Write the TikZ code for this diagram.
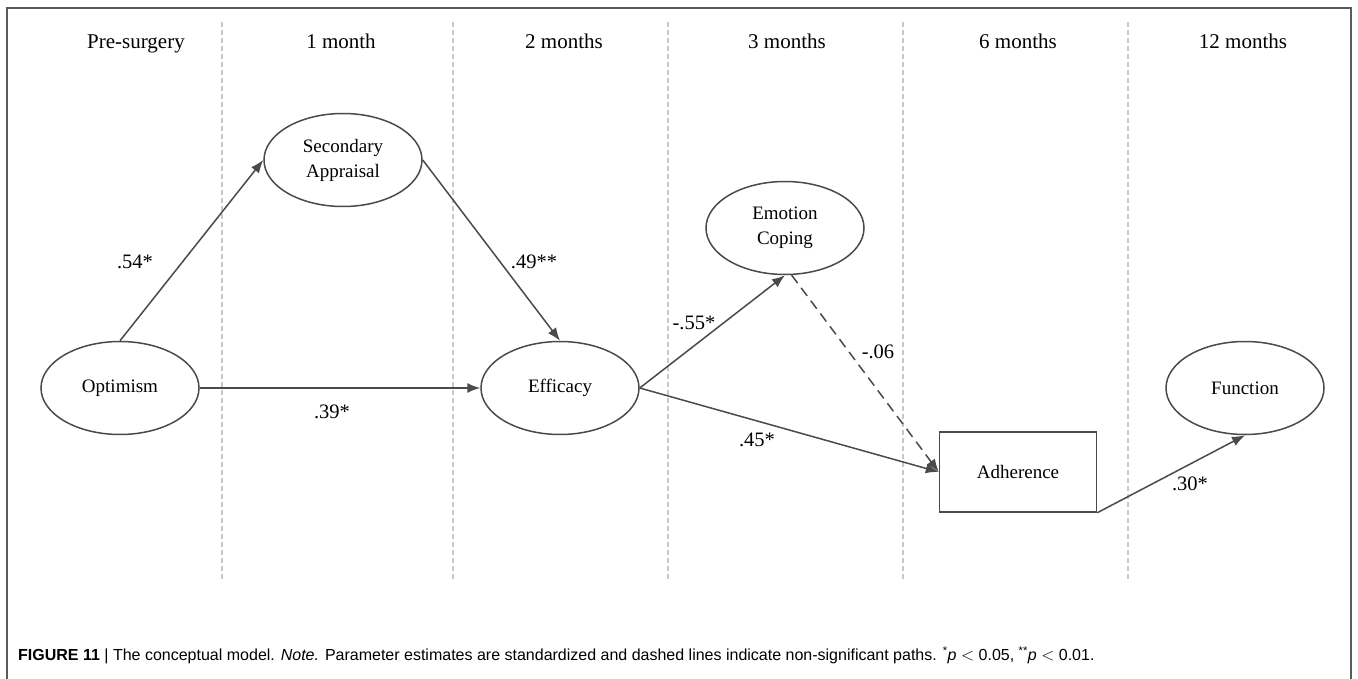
\documentclass[tikz,border=0pt]{standalone}
\usepackage{fontspec}
\setmainfont{Liberation Serif}
\newfontfamily\capfont{Liberation Sans}
\usetikzlibrary{shapes.geometric,arrows.meta}
\definecolor{linegray}{HTML}{4A4A4A}
\definecolor{gridgray}{HTML}{C8C8C8}
\definecolor{framegray}{HTML}{5A5A5A}
\begin{document}
\begin{tikzpicture}[x=1pt,y=-1pt,
  latent/.style={ellipse,draw=linegray,line width=1.5pt,minimum width=158pt,minimum height=93pt,inner sep=0pt,align=center,font=\fontsize{19}{25}\selectfont},
  observed/.style={rectangle,draw=linegray,line width=1.5pt,minimum width=157pt,minimum height=80pt,inner sep=0pt,font=\fontsize{19}{25}\selectfont},
  header/.style={anchor=base,font=\fontsize{21}{24}\selectfont},
  coef/.style={font=\fontsize{20.5}{24}\selectfont,inner sep=1pt},
  path/.style={draw=linegray,line width=1.5pt,-{Latex[length=13pt,width=10pt]}},
  nspath/.style={path,dash pattern=on 10pt off 6pt},
  divider/.style={draw=gridgray,line width=1.4pt,dash pattern=on 5pt off 3pt}]
\useasboundingbox (0,0) rectangle (1358,679);
\fill[white] (0,0) rectangle (1358,679);
% outer frame (open at the bottom edge)
\draw[framegray,line width=1.5pt] (7,679) -- (7,8) -- (1351,8) -- (1351,679);

% time-point dividers
\foreach \xx in {222,453,668,903,1128}
  \draw[divider] (\xx,22) -- (\xx,582);

% column headers
\node[header] (hpre) at (136,49) {Pre-surgery};
\node[header] (h1)   at (341,49) {1 month};
\node[header] (h2)   at (564,49) {2 months};
\node[header] (h3)   at (787,49) {3 months};
\node[header] (h6)   at (1018,49) {6 months};
\node[header] (h12)  at (1243,49) {12 months};

% constructs
\node[latent] (opt) at (120,388) {Optimism};
\node[latent] (sec) at (343,160) {Secondary\\Appraisal};
\node[latent] (eff) at (560,388) {Efficacy};
\node[latent] (emo) at (785,228) {Emotion\\Coping};
\node[latent] (fun) at (1245,388) {Function};
\node[observed] (adh) at (1018,472) {Adherence};

% paths
\draw[path] (opt.north) -- (sec.west);
\draw[path] (sec.east) -- (eff.north);
\draw[path] (opt.east) -- (eff.west);
\draw[path] (eff.east) -- (emo.south);
\draw[path] (eff.east) -- (adh.west);
\draw[nspath] (emo.-82) -- (adh.west);
\draw[path] (adh.south east) -- (fun.south);

% path coefficients
\node[coef] (c54) at (135,262) {.54*};
\node[coef] (c39) at (332,412) {.39*};
\node[coef] (c49) at (534,262) {.49**};
\node[coef] (c55) at (694,323) {-.55*};
\node[coef] (c06) at (878,352) {-.06};
\node[coef] (c45) at (757,440) {.45*};
\node[coef] (c30) at (1190,484) {.30*};

% caption
\node[anchor=west,inner sep=0pt,font=\capfont\fontsize{16}{18}\selectfont] (cap) at (18,655)
  {\textbf{FIGURE 11} | The conceptual model. \textit{Note.} Parameter estimates are standardized and dashed lines indicate non-significant paths. \textsuperscript{*}\textit{p} $<$ 0.05, \textsuperscript{**}\textit{p} $<$ 0.01.};
\end{tikzpicture}
\end{document}
